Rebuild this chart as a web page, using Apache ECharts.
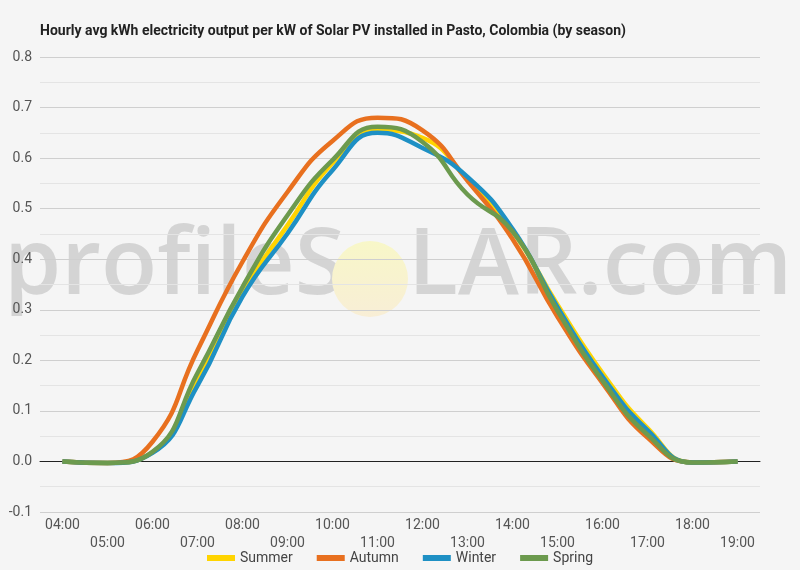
<!DOCTYPE html>
<html>
<head>
<meta charset="utf-8">
<script src="https://cdn.jsdelivr.net/npm/echarts@6/dist/echarts.min.js"></script>
<style>
  html, body { margin:0; padding:0; background:#f5f5f5; }
  #main { width:800px; height:570px; }
</style>
</head>
<body>
<div id="main"></div>
<script>
var hours = ['04:00','05:00','06:00','07:00','08:00','09:00','10:00','11:00','12:00','13:00','14:00','15:00','16:00','17:00','18:00','19:00'];
var summer = [0, -0.003, 0.018, 0.165, 0.335, 0.467, 0.59, 0.655, 0.64, 0.558, 0.456, 0.31, 0.175, 0.066, -0.002, 0];
var autumn = [0, -0.003, 0.039, 0.22, 0.395, 0.533, 0.634, 0.68, 0.655, 0.555, 0.44, 0.286, 0.155, 0.047, -0.002, 0];
var winter = [0, -0.003, 0.017, 0.15, 0.326, 0.451, 0.576, 0.65, 0.62, 0.563, 0.46, 0.305, 0.168, 0.062, -0.002, 0];
var spring = [0, -0.003, 0.019, 0.175, 0.345, 0.487, 0.596, 0.662, 0.632, 0.528, 0.455, 0.298, 0.16, 0.053, -0.002, 0];

var colors = ['#FFD400', '#E8701F', '#1E90C4', '#6C9A4E'];

function mkSeries(name, data) {
  return {
    name: name,
    type: 'line',
    data: data,
    smooth: 0.5,
    showSymbol: false,
    lineStyle: { width: 4.5 },
    emphasis: { disabled: true }
  };
}

var option = {
  backgroundColor: '#f5f5f5',
  color: colors,
  textStyle: { fontFamily: 'Roboto' },
  title: {
    text: 'Hourly avg kWh electricity output per kW of Solar PV installed in Pasto, Colombia (by season)',
    left: 35, top: 19,
    textStyle: { fontSize: 14, fontWeight: 'bold', color: '#222', fontFamily: 'Roboto' }
  },
  graphic: [
    {
      type: 'text', z: 0, left: 4, top: 222,
      style: { text: 'profileS', font: '600 92px "Open Sans"', fill: 'rgba(150,150,150,0.34)' }
    },
    {
      type: 'circle', z: 0,
      shape: { cx: 370, cy: 279, r: 38 },
      style: {
        fill: new echarts.graphic.LinearGradient(0, 0, 0, 1, [
          { offset: 0, color: '#f8f7c8' },
          { offset: 1, color: '#f8eed6' }
        ])
      }
    },
    {
      type: 'text', z: 0, left: 408, top: 222,
      style: { text: 'LAR.com', font: '600 92px "Open Sans"', fill: 'rgba(150,150,150,0.34)' }
    }
  ],
  legend: {
    top: 546, left: 'center',
    icon: 'rect', itemWidth: 28, itemHeight: 6, itemGap: 24,
    textStyle: { fontSize: 14, color: '#444' },
    data: ['Summer', 'Autumn', 'Winter', 'Spring']
  },
  grid: { left: 40, right: 40, top: 57, bottom: 58, containLabel: false },
  xAxis: {
    type: 'category',
    data: hours,
    boundaryGap: true,
    axisLine: { onZero: true, lineStyle: { color: '#222', width: 1 } },
    axisTick: { show: false },
    axisLabel: {
      interval: 0, fontSize: 14, color: '#555', margin: 4, lineHeight: 18,
      formatter: function (v, i) { return i % 2 === 1 ? '\n' + v : v; }
    }
  },
  yAxis: {
    type: 'value',
    min: -0.1, max: 0.8, interval: 0.1,
    axisLine: { show: false },
    axisTick: { show: false },
    axisLabel: {
      fontSize: 14, color: '#555', margin: 8,
      formatter: function (v) { return v.toFixed(1); }
    },
    splitLine: { lineStyle: { color: '#cfcfcf', width: 1 } },
    minorTick: { show: false, splitNumber: 2 },
    minorSplitLine: { show: true, lineStyle: { color: '#e4e4e4', width: 1 } }
  },
  series: [
    mkSeries('Summer', summer),
    mkSeries('Autumn', autumn),
    mkSeries('Winter', winter),
    mkSeries('Spring', spring)
  ]
};

var myChart = echarts.init(document.getElementById('main'));
myChart.setOption(option);
</script>
</body>
</html>
